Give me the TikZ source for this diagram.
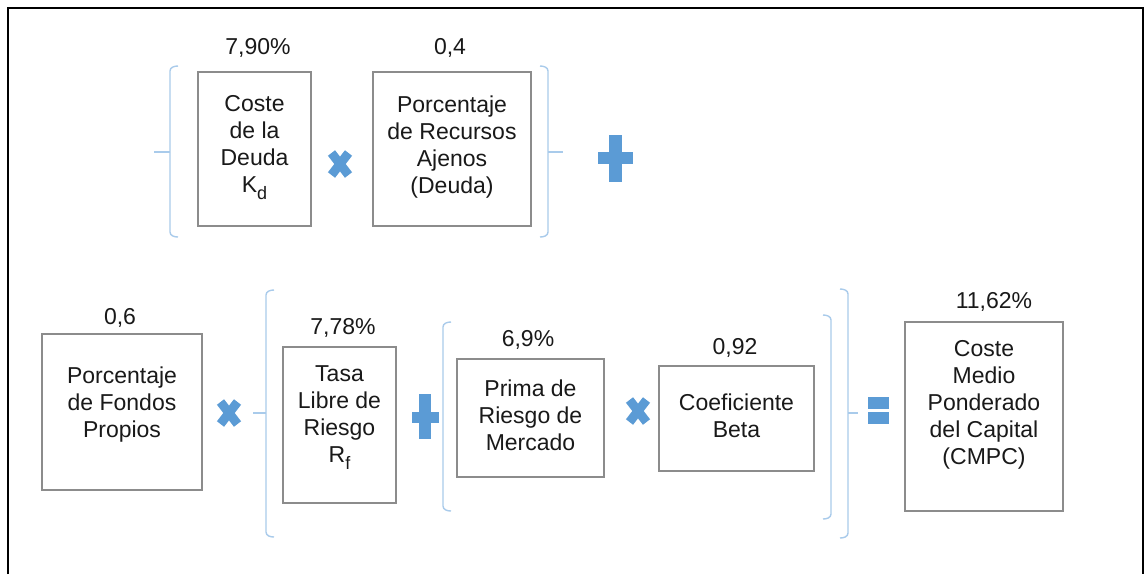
\documentclass[tikz,border=0pt]{standalone}
\usepackage{fontspec}
\setmainfont{Liberation Sans}
\definecolor{opc}{HTML}{5B9BD5}
\definecolor{brc}{HTML}{A9CBEB}
\definecolor{bxc}{HTML}{8C8C8C}
\newcommand\subidx[1]{\raisebox{-0.3em}{\fontsize{18}{18}\selectfont #1}}
\tikzset{
  boxnode/.style={draw=bxc, line width=1.6pt, fill=white, inner sep=0pt},
  txtnode/.style={align=center, font=\fontsize{23}{27}\selectfont, inner sep=0pt, text=black!90},
  valnode/.style={font=\fontsize{23}{26}\selectfont, inner sep=0pt, text=black!90},
  brk/.style={draw=brc, line width=1.4pt},
  frame/.style={draw=black, line width=2pt},
  mult/.pic={\draw[opc, line width=9pt] (-8.5,-11) -- (8.5,11) (8.5,-11) -- (-8.5,11);},
}
\begin{document}
\begin{tikzpicture}[x=1pt,y=-1pt]
\useasboundingbox (0,0) rectangle (1145,574);
\fill[white] (0,0) rectangle (1145,574);
\draw[frame] (8,574) -- (8,8) -- (1143,8) -- (1143,574);

% top row
\node[boxnode, minimum width=113pt, minimum height=154pt] (b1) at (254.5,149) {};
\node[txtnode] (t1) at (254.5,147.5) {Coste\\de la\\Deuda\\K\subidx{d}};
\node[valnode] (v1) at (258,48) {7,90\%};
\node[boxnode, minimum width=158pt, minimum height=154pt] (b2) at (452,149) {};
\node[txtnode] (t2) at (452,147.5) {Porcentaje\\de Recursos\\Ajenos\\(Deuda)};
\node[valnode] (v2) at (450,48) {0,4};
\pic at (340,164) {mult};
% top brackets
\draw[brk] (178,66) to[out=180,in=90] (170,71) -- (170,232) to[out=-90,in=180] (178,237);
\draw[brk] (170,152) -- (154,152);
\draw[brk] (540,66) to[out=0,in=90] (548,71) -- (548,232) to[out=-90,in=0] (540,237);
\draw[brk] (548,152) -- (563,152);
% plus top
\fill[opc] (609,135) rectangle (622,182);
\fill[opc] (598,152) rectangle (633,164);

% bottom row
\node[boxnode, minimum width=160pt, minimum height=156pt] (b3) at (122,412) {};
\node[txtnode] (t3) at (122,405) {Porcentaje\\de Fondos\\Propios};
\node[valnode] (v3) at (120,318) {0,6};
\pic at (229,413) {mult};
\draw[brk] (274,290) to[out=180,in=90] (266,295) -- (266,532) to[out=-90,in=180] (274,537);
\draw[brk] (266,413) -- (253,413);

\node[boxnode, minimum width=113pt, minimum height=156pt] (b4) at (339.5,425) {};
\node[txtnode] (t4) at (339.5,418) {Tasa\\Libre de\\Riesgo\\R\subidx{f}};
\node[valnode] (v4) at (343,328) {7,78\%};
\fill[opc] (419,394) rectangle (431,439);
\fill[opc] (412,412) rectangle (439,423);

\draw[brk] (451,322) to[out=180,in=90] (443,327) -- (443,506) to[out=-90,in=180] (451,511);
\node[boxnode, minimum width=147pt, minimum height=118pt] (b5) at (530.5,418) {};
\node[txtnode] (t5) at (530.5,415) {Prima de\\Riesgo de\\Mercado};
\node[valnode] (v5) at (528,340) {6,9\%};
\pic at (638,411) {mult};
\node[boxnode, minimum width=155pt, minimum height=105pt] (b6) at (736.5,418.5) {};
\node[txtnode] (t6) at (736.5,416) {Coeficiente\\Beta};
\node[valnode] (v6) at (735,348) {0,92};
\draw[brk] (823,315) to[out=0,in=90] (831,320) -- (831,514) to[out=-90,in=0] (823,519);

\draw[brk] (840,289) to[out=0,in=90] (848,294) -- (848,533) to[out=-90,in=0] (840,538);
\draw[brk] (848,413) -- (858,413);
\fill[opc] (868,397) rectangle (889,409);
\fill[opc] (868,412) rectangle (889,424);

\node[boxnode, minimum width=158pt, minimum height=189pt] (b7) at (984,416.5) {};
\node[txtnode] (t7) at (984,405) {Coste\\Medio\\Ponderado\\del Capital\\(CMPC)};
\node[valnode] (v7) at (994,302) {11,62\%};
\end{tikzpicture}
\end{document}
